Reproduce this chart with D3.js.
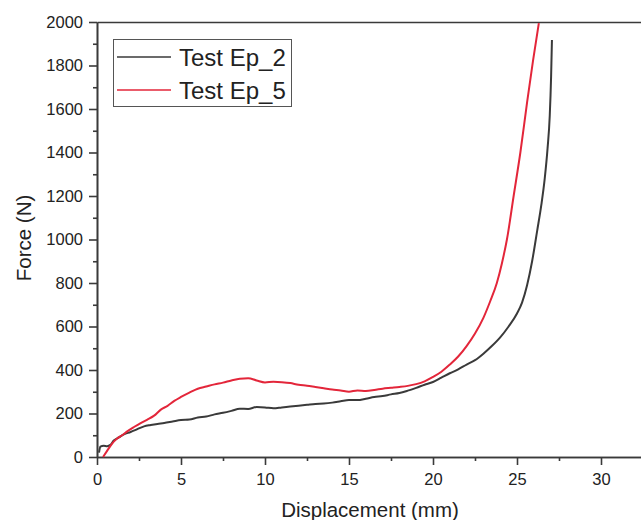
<!DOCTYPE html>
<html>
<head>
<meta charset="UTF-8">
<script src="https://d3js.org/d3.v7.min.js"></script>
<style>
    body { margin: 0; background: #fff; }
    svg { display: block; overflow: hidden; }
    text { font-family: Arial, "Liberation Sans", sans-serif; fill: #222; }
    .axis path, .axis line { stroke: #3a3a3a; stroke-width: 1.6; }
    .axis text { font-size: 16.5px; fill: #222; }
</style>
</head>
<body>
<svg id="chart" width="641" height="520"></svg>
<script>
    // Test Ep_2 (displacement mm, force N)
    const ep2X = [0.12, 0.2, 0.4, 0.6, 0.8, 1.0, 1.3, 1.6, 2.0, 2.4, 2.8, 3.2, 3.6, 4.0, 4.5, 5.0, 5.5, 6.0, 6.5, 7.0,
        7.5, 8.0, 8.5, 9.0, 9.5, 10.0, 10.5, 11.0, 11.5, 12.0, 12.5, 13.0, 13.5, 14.0, 14.5, 15.0, 15.5, 16.0, 16.5, 17.0,
        17.5, 18.0, 18.5, 19.0, 19.5, 20.0, 20.5, 21.0, 21.5, 22.0, 22.5, 23.0, 23.5, 24.0, 24.5, 25.0, 25.3, 25.6, 25.9,
        26.2, 26.45, 26.65, 26.82, 26.95, 27.03, 27.08];
    const ep2Y = [20, 48, 52, 50, 56, 76, 90, 104, 115, 128, 141, 147, 152, 156, 163, 170, 172, 182, 186, 196,
        203, 212, 222, 221, 230, 228, 224, 228, 232, 236, 240, 244, 246, 250, 256, 262, 262, 268, 276, 280,
        288, 294, 305, 318, 332, 345, 365, 385, 403, 425, 445, 475, 510, 550, 600, 660, 710, 790, 900,
        1040, 1160, 1280, 1420, 1570, 1750, 1917];

    // Test Ep_5
    const ep5X = [0.36, 0.6, 0.9, 1.2, 1.5, 1.8, 2.2, 2.6, 3.0, 3.4, 3.8, 4.2, 4.6, 5.0, 5.5, 6.0, 6.5, 7.0, 7.5, 8.0,
        8.5, 9.0, 9.5, 10.0, 10.5, 11.0, 11.5, 12.0, 12.5, 13.0, 13.5, 14.0, 14.5, 15.0, 15.5, 16.0, 16.5, 17.0, 17.5,
        18.0, 18.5, 19.0, 19.5, 20.0, 20.5, 21.0, 21.5, 22.0, 22.5, 23.0, 23.4, 23.8, 24.1, 24.4, 24.8, 25.2,
        25.6, 25.95, 26.3];
    const ep5Y = [0, 28, 62, 85, 100, 118, 138, 156, 172, 190, 218, 235, 258, 276, 296, 314, 324, 334, 342, 352,
        360, 362, 352, 343, 346, 344, 340, 332, 328, 322, 316, 310, 306, 300, 306, 304, 308, 314, 318,
        322, 327, 335, 348, 368, 392, 425, 462, 510, 568, 640, 715, 800, 890, 1000, 1200, 1400,
        1630, 1820, 1995];

    const seriesNames = ["Test Ep_2", "Test Ep_5"];
    const seriesColors = ["#3a3a3a", "#e3263a"];

    const xMajor = [0, 5, 10, 15, 20, 25, 30];
    const xMinor = [2.5, 7.5, 12.5, 17.5, 22.5, 27.5];
    const yMajor = [0, 200, 400, 600, 800, 1000, 1200, 1400, 1600, 1800, 2000];
    const yMinor = [100, 300, 500, 700, 900, 1100, 1300, 1500, 1700, 1900];

    const svg = d3.select("#chart");
    const plotLeft = 97, plotTop = 22, plotBottom = 457;

    // the frame runs past the right edge of the picture
    const x = d3.scaleLinear().domain([0, 35]).range([plotLeft, plotLeft + 16.8 * 35]);
    const y = d3.scaleLinear().domain([0, 2000]).range([plotBottom, plotTop]);

    // minor ticks
    svg.append("g").attr("class", "axis")
        .attr("transform", `translate(0,${plotBottom})`)
        .call(d3.axisBottom(x).tickValues(xMinor).tickSize(4).tickSizeOuter(0).tickFormat(""));
    svg.append("g").attr("class", "axis")
        .attr("transform", `translate(${plotLeft},0)`)
        .call(d3.axisLeft(y).tickValues(yMinor).tickSize(4).tickSizeOuter(0).tickFormat(""));

    // major ticks
    svg.append("g").attr("class", "axis")
        .attr("transform", `translate(0,${plotBottom})`)
        .call(d3.axisBottom(x).tickValues(xMajor).tickSize(8).tickPadding(8).tickSizeOuter(0).tickFormat(d3.format("d")));
    svg.append("g").attr("class", "axis")
        .attr("transform", `translate(${plotLeft},0)`)
        .call(d3.axisLeft(y).tickValues(yMajor).tickSize(8).tickPadding(6).tickSizeOuter(0).tickFormat(d3.format("d")));

    // top frame
    svg.append("g").attr("class", "axis")
        .attr("transform", `translate(0,${plotTop})`)
        .call(d3.axisTop(x).tickValues([]).tickSizeOuter(0));

    // lines
    const line = d3.line().x(d => x(d[0])).y(d => y(d[1])).curve(d3.curveMonotoneX);
    const series = [d3.zip(ep2X, ep2Y), d3.zip(ep5X, ep5Y)];
    series.forEach((s, i) => {
        svg.append("path")
            .datum(s)
            .attr("fill", "none")
            .attr("stroke", seriesColors[i])
            .attr("stroke-width", 2)
            .attr("stroke-linejoin", "round")
            .attr("d", line);
    });

    // axis titles
    svg.append("text")
        .attr("x", 370)
        .attr("y", 517)
        .attr("text-anchor", "middle")
        .style("font-size", "20.5px")
        .text("Displacement (mm)");

    svg.append("text")
        .attr("transform", "translate(31,238) rotate(-90)")
        .attr("text-anchor", "middle")
        .style("font-size", "20.5px")
        .text("Force (N)");

    // legend
    const legend = svg.append("g");
    legend.append("rect")
        .attr("x", 113.5).attr("y", 39.5)
        .attr("width", 178).attr("height", 67)
        .attr("fill", "#fff")
        .attr("stroke", "#555")
        .attr("stroke-width", 1);
    seriesNames.forEach((name, i) => {
        const ly = 57 + i * 33;
        legend.append("line")
            .attr("x1", 117).attr("x2", 171)
            .attr("y1", ly).attr("y2", ly)
            .attr("stroke", seriesColors[i])
            .attr("stroke-width", 1.7);
        legend.append("text")
            .attr("x", 179)
            .attr("y", ly + 9)
            .style("font-size", "24px")
            .text(name);
    });
</script>
</body>
</html>
